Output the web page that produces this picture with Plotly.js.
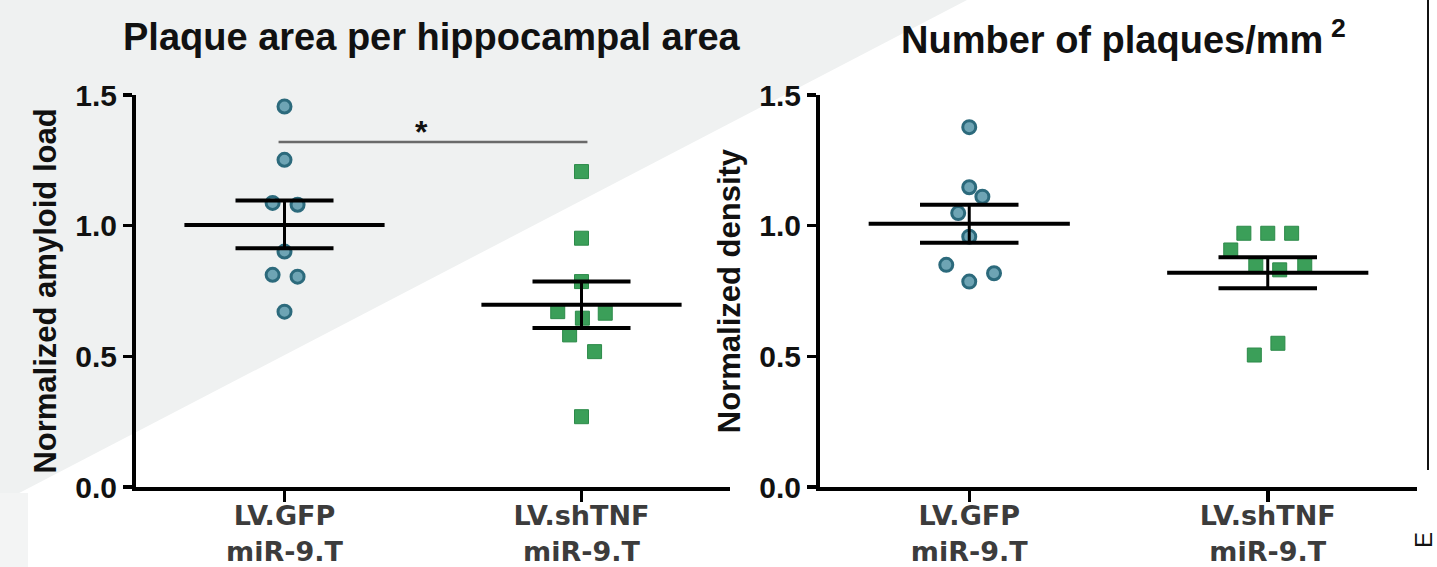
<!DOCTYPE html>
<html>
<head>
<meta charset="utf-8">
<script src="https://cdn.plot.ly/plotly-3.0.1.min.js"></script>
<style>
  html, body { margin: 0; padding: 0; background: #ffffff; }
  #chart { width: 1437px; height: 567px; }
</style>
</head>
<body>
<div id="chart"></div>
<script>
// ---------------- data ----------------
const categories = ['LV.GFP<br>miR-9.T', 'LV.shTNF<br>miR-9.T'];
const panelTitles = ['Plaque area per hippocampal area', 'Number of plaques/mm\u2009<sup>2</sup>'];
const yTitles = ['Normalized amyloid load', 'Normalized density'];
const yTickVals = [0, 0.5, 1.0, 1.5];

// Panel 1: normalized amyloid load
const amyloidGFP    = [1.456, 1.252, 1.087, 1.080, 0.901, 0.812, 0.805, 0.671];
const amyloidShTNF  = [1.207, 0.952, 0.786, 0.671, 0.665, 0.646, 0.582, 0.518, 0.269];
const amyloidMean   = [1.003, 0.697];
const amyloidSemHi  = [1.096, 0.786];
const amyloidSemLo  = [0.914, 0.608];
const amyloidSig    = {from: 0, to: 1, level: 1.32, label: '*'};

// Panel 2: normalized density
const densityGFP    = [1.377, 1.147, 1.111, 1.048, 0.958, 0.850, 0.818, 0.786];
const densityShTNF  = [0.971, 0.971, 0.971, 0.907, 0.850, 0.831, 0.850, 0.550, 0.505];
const densityMean   = [1.007, 0.820];
const densitySemHi  = [1.080, 0.879];
const densitySemLo  = [0.935, 0.761];

// horizontal scatter offsets of the dots (category units), as laid out in the picture
const jitAmyGFP   = [0, 0, -0.04, 0.044, 0, -0.04, 0.044, 0];
const jitAmySh    = [0, 0, 0, -0.08, 0.08, 0.003, -0.04, 0.044, 0];
const jitDenGFP   = [0, 0, 0.044, -0.037, 0, -0.077, 0.083, 0];
const jitDenSh    = [-0.08, 0, 0.08, -0.124, -0.04, 0.04, 0.124, 0.034, -0.045];

// ---------------- styling ----------------
const W = 1437, H = 567;
const px = v => v / W;
const py = v => 1 - v / H;
const FONT_A = 'Liberation Sans, Arial, sans-serif';
const FONT_X = 'DejaVu Sans, sans-serif';
const circleMarker = {symbol: 'circle', size: 13, color: '#6ea4b4', line: {color: '#2c6a7c', width: 3}};
const squareMarker = {symbol: 'square', size: 14, color: '#3b9f59', line: {color: '#2c8a49', width: 1}};
const MEAN_HW = 0.337, SEM_HW = 0.165;

function dots(vals, jit, cat, marker, xa, ya) {
  return {
    type: 'scatter', mode: 'markers',
    x: vals.map((v, i) => cat + jit[i]), y: vals,
    marker: marker, xaxis: xa, yaxis: ya, hoverinfo: 'y', showlegend: false
  };
}
function summary(mean, hi, lo, xa, ya) {
  const tracks = [];
  const mx = [], my = [], sx = [], sy = [], vx = [], vy = [];
  mean.forEach((m, c) => {
    mx.push(c - MEAN_HW, c + MEAN_HW, null); my.push(m, m, null);
    sx.push(c - SEM_HW, c + SEM_HW, null, c - SEM_HW, c + SEM_HW, null);
    sy.push(hi[c], hi[c], null, lo[c], lo[c], null);
    vx.push(c, c, null); vy.push(lo[c], hi[c], null);
  });
  tracks.push({type: 'scatter', mode: 'lines', x: vx, y: vy, line: {color: '#000', width: 3}, xaxis: xa, yaxis: ya, hoverinfo: 'skip', showlegend: false});
  tracks.push({type: 'scatter', mode: 'lines', x: sx, y: sy, line: {color: '#000', width: 4}, xaxis: xa, yaxis: ya, hoverinfo: 'skip', showlegend: false});
  tracks.push({type: 'scatter', mode: 'lines', x: mx, y: my, line: {color: '#000', width: 4}, xaxis: xa, yaxis: ya, hoverinfo: 'skip', showlegend: false});
  return tracks;
}

const data = [
  dots(amyloidGFP, jitAmyGFP, 0, circleMarker, 'x', 'y'),
  dots(amyloidShTNF, jitAmySh, 1, squareMarker, 'x', 'y'),
  dots(densityGFP, jitDenGFP, 0, circleMarker, 'x2', 'y2'),
  dots(densityShTNF, jitDenSh, 1, squareMarker, 'x2', 'y2'),
  ...summary(amyloidMean, amyloidSemHi, amyloidSemLo, 'x', 'y'),
  ...summary(densityMean, densitySemHi, densitySemLo, 'x2', 'y2')
];

function xAxis(domain, anchor) {
  return {
    domain: domain, anchor: anchor, range: [-0.5, 1.5], fixedrange: true,
    tickmode: 'array', tickvals: [0, 1], ticktext: categories,
    ticks: 'outside', ticklen: 11, tickwidth: 3.5, tickcolor: '#000',
    showline: true, linewidth: 4, linecolor: '#000',
    showgrid: false, zeroline: false, ticklabelstandoff: -9,
    tickfont: {family: FONT_X, size: 27, color: '#3c3c3c', weight: 'bold'}
  };
}
function yAxis(domain, anchor, title) {
  return {
    domain: domain, anchor: anchor, range: [0, 1.5], fixedrange: true,
    tickmode: 'array', tickvals: yTickVals, tickformat: '.1f',
    ticks: 'outside', ticklen: 9, tickwidth: 3.5, tickcolor: '#000',
    showline: true, linewidth: 4, linecolor: '#000',
    showgrid: false, zeroline: false,
    tickfont: {family: FONT_A, size: 30, color: '#111', weight: 'bold'},
    title: {text: title, font: {family: FONT_A, size: 31, color: '#111', weight: 'bold'}, standoff: 10}
  };
}

const yDom = [py(487), py(95)];
const layout = {
  width: W, height: H,
  margin: {l: 0, r: 0, t: 0, b: 0},
  paper_bgcolor: '#ffffff', plot_bgcolor: 'rgba(0,0,0,0)',
  showlegend: false,
  xaxis: xAxis([px(136), px(730)], 'y'),
  yaxis: yAxis(yDom, 'x', yTitles[0]),
  xaxis2: xAxis([px(820), px(1417)], 'y2'),
  yaxis2: yAxis(yDom, 'x2', yTitles[1]),
  shapes: [
    {type: 'path', xref: 'paper', yref: 'paper', layer: 'below',
     path: `M 0 1 L ${px(967)} 1 L 0 ${py(503)} Z`, fillcolor: '#eff1f1', line: {width: 0}},
    {type: 'rect', xref: 'paper', yref: 'paper', layer: 'below',
     x0: 0, x1: px(28), y0: 0, y1: py(493), fillcolor: '#f3f4f4', line: {width: 0}},
    {type: 'line', xref: 'x', yref: 'y', x0: amyloidSig.from - 0.02, x1: amyloidSig.to + 0.02,
     y0: amyloidSig.level, y1: amyloidSig.level, line: {color: '#6a6a6a', width: 2.5}},
    {type: 'line', xref: 'paper', yref: 'paper', x0: px(1428), x1: px(1428), y0: 1, y1: py(470),
     line: {color: '#111', width: 2}}
  ],
  annotations: [
    {xref: 'paper', yref: 'paper', x: px(432), y: py(37), xanchor: 'center', yanchor: 'middle',
     text: panelTitles[0], showarrow: false, font: {family: FONT_A, size: 38, color: '#111', weight: 'bold'}},
    {xref: 'paper', yref: 'paper', x: px(1123), y: py(37), xanchor: 'center', yanchor: 'middle',
     text: panelTitles[1], showarrow: false, font: {family: FONT_A, size: 38, color: '#111', weight: 'bold'}},
    {xref: 'x', yref: 'y', x: 0.46, y: amyloidSig.level - 0.04, xanchor: 'center', yanchor: 'bottom',
     text: amyloidSig.label, showarrow: false, font: {family: FONT_A, size: 32, color: '#111', weight: 'bold'}},
    {xref: 'paper', yref: 'paper', x: px(1423), y: py(540), xanchor: 'center', yanchor: 'middle',
     text: 'E', textangle: -90, showarrow: false, font: {family: FONT_A, size: 24, color: '#111'}}
  ]
};

Plotly.newPlot('chart', data, layout, {staticPlot: true, displayModeBar: false});
</script>
</body>
</html>
